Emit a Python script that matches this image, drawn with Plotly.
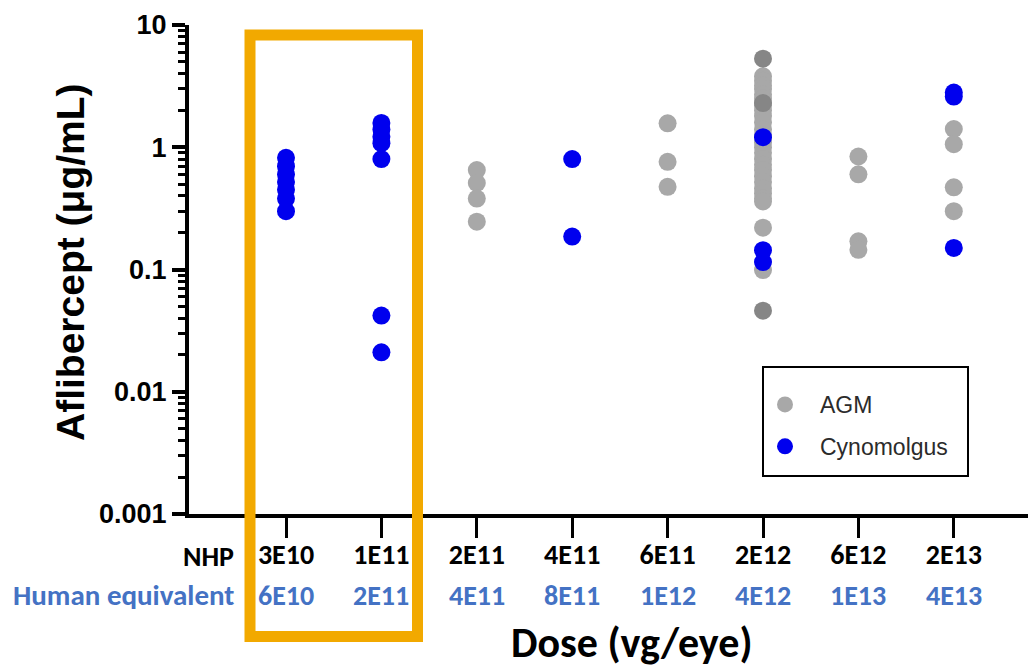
import plotly.graph_objects as go

# ---- data ----
nhp_doses = ["3E10", "1E11", "2E11", "4E11", "6E11", "2E12", "6E12", "2E13"]
human_equiv = ["6E10", "2E11", "4E11", "8E11", "1E12", "4E12", "1E13", "4E13"]

cyno_3e10 = [0.82, 0.70, 0.60, 0.52, 0.45, 0.38, 0.30]
cyno_1e11 = [1.58, 1.40, 1.22, 1.08, 0.80, 0.042, 0.021]
agm_2e11 = [0.65, 0.51, 0.38, 0.246]
cyno_4e11 = [0.80, 0.186]
agm_6e11 = [1.57, 0.76, 0.475]
agm_2e12 = [3.8, 3.5, 3.2, 3.0, 2.7, 2.5, 2.2, 2.0, 1.8, 1.6, 1.4, 1.25, 1.1,
            1.0, 0.9, 0.8, 0.72, 0.65, 0.58, 0.52, 0.46, 0.42, 0.38, 0.36,
            0.22, 0.099]
agm_2e12_dark = [5.3, 2.3, 0.046]
cyno_2e12 = [1.21, 0.144, 0.115]
agm_6e12 = [0.84, 0.60, 0.17, 0.145]
agm_2e13 = [1.41, 1.06, 0.47, 0.30]
cyno_2e13 = [2.8, 2.6, 0.15]

y_ticks = [0.001, 0.01, 0.1, 1, 10]
y_ticktext = ["0.001", "0.01", "0.1", "1", "10"]

# ---- build traces ----
def pos(dose):
    return nhp_doses.index(dose) + 1

def collect(groups):
    xs, ys = [], []
    for dose, vals in groups:
        xs += [pos(dose)] * len(vals)
        ys += list(vals)
    return xs, ys

agm_x, agm_y = collect([("2E11", agm_2e11), ("6E11", agm_6e11), ("2E12", agm_2e12),
                        ("6E12", agm_6e12), ("2E13", agm_2e13)])
agmd_x, agmd_y = collect([("2E12", agm_2e12_dark)])
cyn_x, cyn_y = collect([("3E10", cyno_3e10), ("1E11", cyno_1e11), ("4E11", cyno_4e11),
                        ("2E12", cyno_2e12), ("2E13", cyno_2e13)])

GRAY = "#A8A8A8"
DARK = "#868686"
BLUE = "#0000EE"
HUMAN_BLUE = "#4472C4"
CAL = "Carlito, Lato, sans-serif"
ARIAL = "Liberation Sans, Arial, sans-serif"

fig = go.Figure()
fig.add_trace(go.Scatter(x=agm_x, y=agm_y, mode="markers", name="AGM",
                         legendgroup="agm",
                         marker=dict(size=18, color=GRAY, line=dict(width=0))))
fig.add_trace(go.Scatter(x=agmd_x, y=agmd_y, mode="markers", name="AGM",
                         legendgroup="agm", showlegend=False,
                         marker=dict(size=18, color=DARK, line=dict(width=0))))
fig.add_trace(go.Scatter(x=cyn_x, y=cyn_y, mode="markers", name="Cynomolgus",
                         legendgroup="cyno",
                         marker=dict(size=18, color=BLUE, line=dict(width=0))))

# ---- geometry helpers (page pixel -> paper); page has an 8px body margin ----
OFF = 8
W, H = 1036 - OFF, 667 - OFF
PLOT_L, PLOT_T, PLOT_B = 189, 25, 514          # page pixels
L = PLOT_L - OFF
T = PLOT_T - OFF
B = H - (PLOT_B - OFF)
PW = W - L
PH = PLOT_B - PLOT_T
def px_x(px):
    return (px - PLOT_L) / PW
def px_y(py):
    return (PLOT_B - py) / PH

STEP = 95.4
X1_PX = 286
x0_range = 1 - (X1_PX - PLOT_L) / STEP
x1_range = x0_range + PW / STEP
def dx(px):
    return 1 + (px - X1_PX) / STEP

minor_vals = [m * 10 ** e for e in range(-3, 1) for m in range(2, 10)]

fig.update_layout(
    width=W, height=H,
    margin=dict(l=L, r=0, t=T, b=B),
    paper_bgcolor="white", plot_bgcolor="white",
    showlegend=True,
    legend=dict(x=px_x(750), y=px_y(383), xanchor="left", yanchor="top",
                bgcolor="rgba(0,0,0,0)", borderwidth=0,
                font=dict(family=ARIAL, size=23, color="#2b2b2b"),
                itemwidth=60, tracegroupgap=9),
    xaxis=dict(range=[x0_range, x1_range], showgrid=False, zeroline=False,
               showline=True, linewidth=4, linecolor="black",
               ticks="outside", ticklen=20, tickwidth=3, tickcolor="black",
               tickmode="array", tickvals=list(range(1, len(nhp_doses) + 1)),
               ticktext=nhp_doses, ticklabelstandoff=-8,
               tickfont=dict(family=CAL, size=28, color="black", weight="bold")),
    yaxis=dict(type="log", range=[-3, 1], showgrid=False, zeroline=False,
               showline=True, linewidth=4, linecolor="black",
               ticks="outside", ticklen=13, tickwidth=4, tickcolor="black",
               tickmode="array", tickvals=y_ticks, ticktext=y_ticktext,
               tickfont=dict(family=ARIAL, size=27, color="black", weight="bold"),
               minor=dict(tickmode="array", tickvals=minor_vals, ticks="outside",
                          ticklen=7, tickwidth=3, tickcolor="black", showgrid=False)),
)

annotations = []
# y-axis title
annotations.append(dict(text="Aflibercept (μg/mL)", textangle=-90,
                        xref="paper", yref="paper", x=px_x(70), y=px_y(262),
                        xanchor="center", yanchor="middle", showarrow=False,
                        font=dict(family=ARIAL, size=39, color="black", weight="bold")))
# row headers
annotations.append(dict(text="NHP", xref="paper", yref="paper", x=px_x(236), y=px_y(556),
                        xanchor="right", yanchor="middle", showarrow=False,
                        font=dict(family=CAL, size=28, color="black", weight="bold")))
annotations.append(dict(text="Human equivalent", xref="paper", yref="paper",
                        x=px_x(236), y=px_y(595), xanchor="right", yanchor="middle",
                        showarrow=False,
                        font=dict(family=CAL, size=29, color=HUMAN_BLUE, weight="bold")))
# human-equivalent row
for i, lab in enumerate(human_equiv):
    annotations.append(dict(text=lab, xref="x", yref="paper", x=i + 1, y=px_y(595),
                            xanchor="center", yanchor="middle", showarrow=False,
                            font=dict(family=CAL, size=28, color=HUMAN_BLUE, weight="bold")))
# x-axis title
annotations.append(dict(text="Dose (vg/eye)", xref="paper", yref="paper",
                        x=px_x(632), y=px_y(642), xanchor="center", yanchor="middle",
                        showarrow=False,
                        font=dict(family=CAL, size=42, color="black", weight="bold")))
fig.update_layout(annotations=annotations)

# highlight box around the first two doses + legend frame
fig.add_shape(type="rect", xref="x", yref="paper",
              x0=dx(250), x1=dx(417.5),
              y0=px_y(636.5), y1=px_y(35),
              line=dict(color="#F2A900", width=11), layer="above")
fig.add_shape(type="rect", xref="paper", yref="paper",
              x0=px_x(763), x1=px_x(968), y0=px_y(476), y1=px_y(367),
              line=dict(color="black", width=2), layer="above")

fig.write_html("out.html")
